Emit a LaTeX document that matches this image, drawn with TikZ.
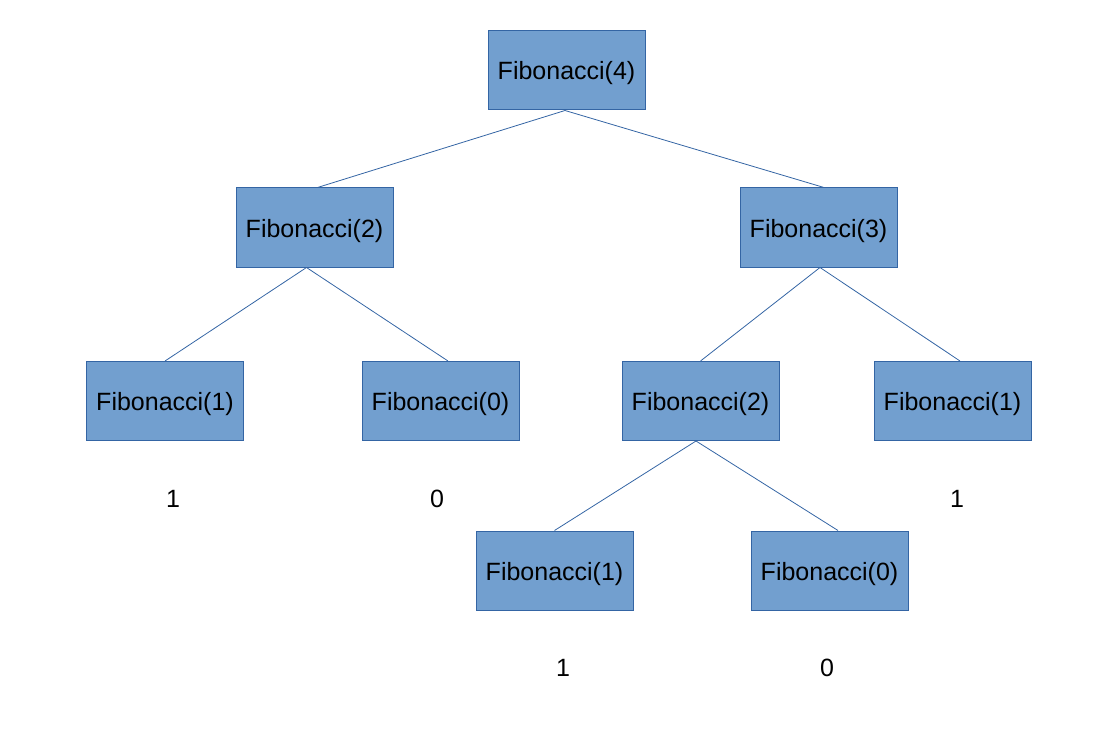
\documentclass[tikz,border=0pt]{standalone}
\usepackage{fontspec}
\setmainfont{Liberation Sans}
\usetikzlibrary{positioning}
\definecolor{boxfill}{HTML}{729FCF}
\definecolor{boxline}{HTML}{3465A4}
\begin{document}
\begin{tikzpicture}[x=1pt,y=-1pt]
	\useasboundingbox (0,0) rectangle (1102,738);
	\begin{scope}[every node/.style={rectangle, draw=boxline, fill=boxfill, line width=1pt,
	              minimum width=157pt, minimum height=79pt, inner sep=0pt,
	              text height=24pt, text depth=5pt, font=\fontsize{25}{30}\selectfont}]
		\node (f4) at (566.5,70.5) {Fibonacci(4)};
		\node (f2l) at (314.5,227.5) {Fibonacci(2)};
		\node (f3) at (818.5,227.5) {Fibonacci(3)};
		\node (f1l) at (165,401) {Fibonacci(1)};
		\node (f0l) at (440.5,401) {Fibonacci(0)};
		\node (f2r) at (700.5,401) {Fibonacci(2)};
		\node (f1r) at (952.5,401) {Fibonacci(1)};
		\node (f1b) at (554.5,570.5) {Fibonacci(1)};
		\node (f0b) at (829.5,570.5) {Fibonacci(0)};
	\end{scope}

	\begin{scope}[every node/.style={inner sep=0pt, font=\fontsize{25}{30}\selectfont}]
		\node (v1l) at (173,499) {1};
		\node (v0l) at (437,499) {0};
		\node (v1r) at (957,499) {1};
		\node (v1b) at (563,668) {1};
		\node (v0b) at (827,668) {0};
	\end{scope}

	\begin{scope}[every edge/.style={draw=boxline, line width=0.8pt}]
		\path ([xshift=-1.5pt]f4.south) edge ([xshift=3pt]f2l.north);
		\path ([xshift=-1.5pt]f4.south) edge ([xshift=5.5pt]f3.north);
		\path ([xshift=-8pt]f2l.south) edge (f1l.north);
		\path ([xshift=-8pt]f2l.south) edge ([xshift=7.5pt]f0l.north);
		\path ([xshift=1.5pt]f3.south) edge (f2r.north);
		\path ([xshift=1.5pt]f3.south) edge ([xshift=7.5pt]f1r.north);
		\path ([xshift=-4.5pt]f2r.south) edge (f1b.north);
		\path ([xshift=-4.5pt]f2r.south) edge ([xshift=8.5pt]f0b.north);
	\end{scope}
\end{tikzpicture}
\end{document}
